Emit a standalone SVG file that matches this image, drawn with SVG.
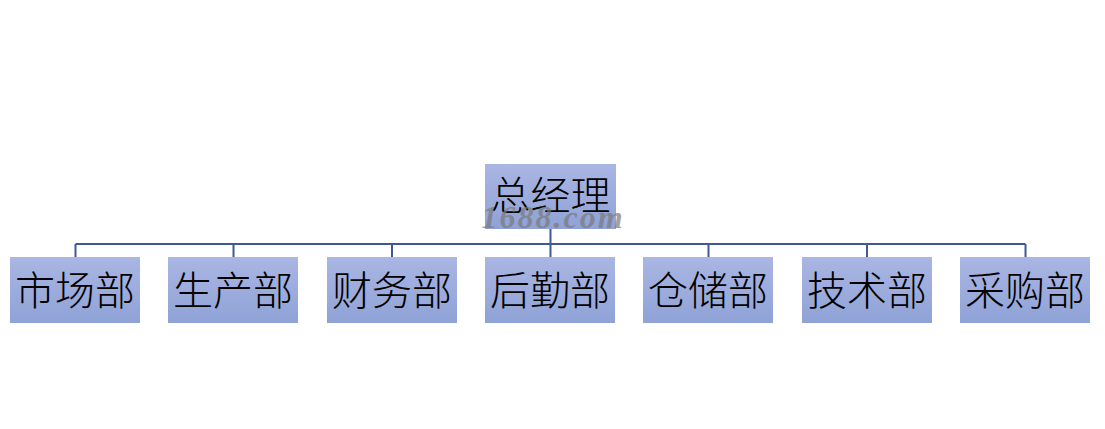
<svg xmlns="http://www.w3.org/2000/svg" width="1105" height="429" viewBox="0 0 1105 429">
<defs>
<linearGradient id="g" x1="0" y1="0" x2="0" y2="1">
<stop offset="0" stop-color="#aab6e3"/>
<stop offset="1" stop-color="#8fa2d6"/>
</linearGradient>
<style>
.box{fill:url(#g);}
.t{font-family:"Noto Sans CJK SC","Liberation Sans",sans-serif;font-size:40px;font-weight:300;fill:#000;text-anchor:middle;dominant-baseline:central;}
.ln{stroke:#3e5a92;stroke-width:2;fill:none;}
.wm{font-family:"Liberation Serif",serif;font-style:italic;font-weight:bold;font-size:32px;letter-spacing:2px;fill:#7a7a7a;opacity:0.7;text-anchor:middle;}
</style>
</defs>
<rect width="1105" height="429" fill="#fff"/>
<g id="connectors">
<path class="ln" d="M550.5 229V244M75.5 244H1025.5M75.5 244V257M233.5 244V257M392 244V257M550.5 244V257M708.5 244V257M867 244V257M1025.5 244V257"/>
</g>
<g id="n0"><rect class="box" x="485" y="164" width="131" height="65"/><text class="t" x="550.5" y="193">总经理</text></g>
<g id="n1"><rect class="box" x="10" y="257" width="130" height="66"/><text class="t" x="75" y="288">市场部</text></g>
<g id="n2"><rect class="box" x="168" y="257" width="130" height="66"/><text class="t" x="233" y="288">生产部</text></g>
<g id="n3"><rect class="box" x="327" y="257" width="130" height="66"/><text class="t" x="392" y="288">财务部</text></g>
<g id="n4"><rect class="box" x="485" y="257" width="130" height="66"/><text class="t" x="550" y="288">后勤部</text></g>
<g id="n5"><rect class="box" x="643" y="257" width="130" height="66"/><text class="t" x="708" y="288">仓储部</text></g>
<g id="n6"><rect class="box" x="802" y="257" width="130" height="66"/><text class="t" x="867" y="288">技术部</text></g>
<g id="n7"><rect class="box" x="960" y="257" width="130" height="66"/><text class="t" x="1025" y="288">采购部</text></g>
<text class="wm" x="553" y="228">1688.com</text>
</svg>
